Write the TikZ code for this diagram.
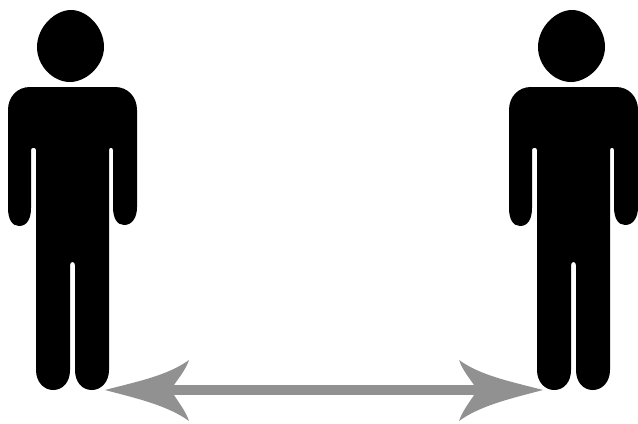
\documentclass[tikz,border=0pt]{standalone}
\usepackage{tikz}
\definecolor{figGray}{RGB}{145,145,145}

\begin{document}
\begin{tikzpicture}[
  x=0.02cm, y=-0.02cm,
  fig/.style={fill=black, draw=none},
  shaft/.style={draw=figGray, line width=0.2cm, shorten <=1cm, shorten >=1cm},
  barb/.style={fill=figGray, draw=none},
]
\useasboundingbox (0,0) rectangle (638,423);

% Standing figure: head, then body outline clockwise from the left shoulder.
\newcommand{\figperson}[1]{%
  \begin{scope}[shift={(#1,0)}]
    \fill[fig] (71,10) .. controls (87,10) and (104,27) .. (104,47)
      .. controls (104,66) and (86,82) .. (70,82)
      .. controls (53,82) and (37,66) .. (37,47)
      .. controls (37,27) and (55,10) .. (71,10) -- cycle;
    \fill[fig] (30,87) -- (115,87)
      .. controls (128,87) and (137,97) .. (137,110)
      -- (137,207) .. controls (137,218) and (132,225) .. (124,225)
      .. controls (117,225) and (113,218) .. (113,207)
      -- (113,150) .. controls (113,147) and (109,147) .. (109,150)
      -- (109,370) .. controls (109,382) and (101,390) .. (92,390)
      .. controls (82,390) and (75,382) .. (75,370)
      -- (75,265) .. controls (75,261) and (70,261) .. (70,265)
      -- (70,370) .. controls (70,382) and (63,390) .. (53,390)
      .. controls (44,390) and (36,382) .. (36,370)
      -- (36,150) .. controls (36,147) and (31,147) .. (31,150)
      -- (31,208) .. controls (31,219) and (27,226) .. (19,226)
      .. controls (12,226) and (8,219) .. (8,208)
      -- (8,110) .. controls (8,97) and (17,87) .. (30,87) -- cycle;
  \end{scope}
}
% Curved arrow head, tip at the origin of the scope.
\newcommand{\figbarb}[2]{%
  \begin{scope}[shift={(#1)}, xscale=#2]
    \fill[barb] (0,0) .. controls (30,-8) and (62,-14) .. (84,-30)
      .. controls (80,-18) and (70,-8) .. (66,0)
      .. controls (70,8) and (80,19) .. (84,31)
      .. controls (62,15) and (30,8) .. (0,0) -- cycle;
  \end{scope}
}

\figperson{0}
\figperson{501}

\coordinate (footL) at (105,390);
\coordinate (footR) at (543,390);
\draw[shaft] (footL) -- (footR);
\figbarb{footL}{1}
\figbarb{footR}{-1}
\end{tikzpicture}
\end{document}
